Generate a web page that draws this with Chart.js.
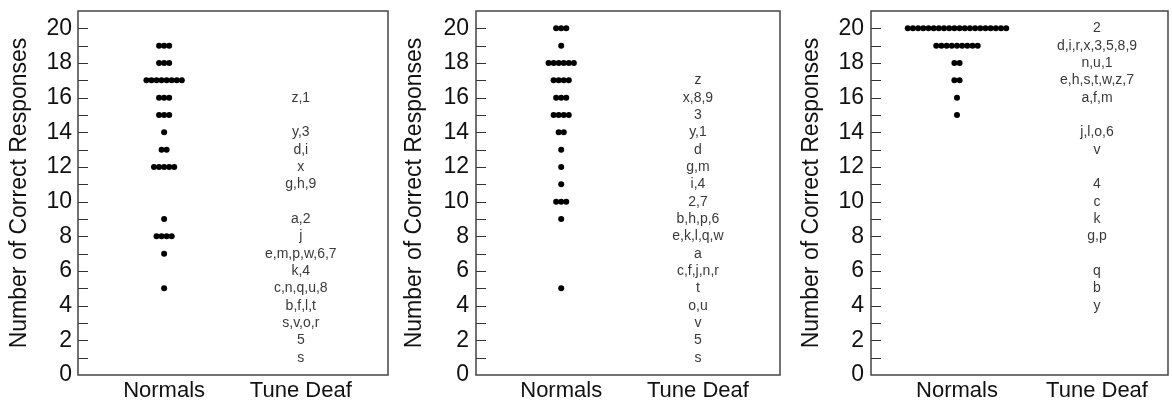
<!DOCTYPE html>
<html>
<head>
<meta charset="utf-8">
<script src="https://cdn.jsdelivr.net/npm/chart.js@4.4.1/dist/chart.umd.min.js"></script>
<style>
  html, body { margin: 0; padding: 0; background: #fff; }
  #wrap { position: relative; width: 1172px; height: 402px; }
  canvas { position: absolute; top: 0; }
</style>
</head>
<body>
<div id="wrap">
  <canvas id="panel1" width="392" height="402" style="left:0px"></canvas>
  <canvas id="panel2" width="392" height="402" style="left:392px"></canvas>
  <canvas id="panel3" width="388" height="402" style="left:784px"></canvas>
</div>
<script>
const categories = ["Normals", "Tune Deaf"];
const yTickLabels = [0, 2, 4, 6, 8, 10, 12, 14, 16, 18, 20];

// panel 1
const p1NormalScores = [19, 18, 17, 16, 15, 14, 13, 12, 9, 8, 7, 5];
const p1NormalCounts = [3, 3, 8, 3, 3, 1, 2, 5, 1, 4, 1, 1];
const p1DeafScores  = [16, 14, 13, 12, 11, 9, 8, 7, 6, 5, 4, 3, 2, 1];
const p1DeafLetters = ["z,1", "y,3", "d,i", "x", "g,h,9", "a,2", "j", "e,m,p,w,6,7",
                       "k,4", "c,n,q,u,8", "b,f,l,t", "s,v,o,r", "5", "s"];

// panel 2
const p2NormalScores = [20, 19, 18, 17, 16, 15, 14, 13, 12, 11, 10, 9, 5];
const p2NormalCounts = [3, 1, 6, 4, 3, 4, 2, 1, 1, 1, 3, 1, 1];
const p2DeafScores  = [17, 16, 15, 14, 13, 12, 11, 10, 9, 8, 7, 6, 5, 4, 3, 2, 1];
const p2DeafLetters = ["z", "x,8,9", "3", "y,1", "d", "g,m", "i,4", "2,7", "b,h,p,6",
                       "e,k,l,q,w", "a", "c,f,j,n,r", "t", "o,u", "v", "5", "s"];

// panel 3
const p3NormalScores = [20, 19, 18, 17, 16, 15];
const p3NormalCounts = [20, 9, 2, 2, 1, 1];
const p3DeafScores  = [20, 19, 18, 17, 16, 14, 13, 11, 10, 9, 8, 6, 5, 4];
const p3DeafLetters = ["2", "d,i,r,x,3,5,8,9", "n,u,1", "e,h,s,t,w,z,7", "a,f,m", "j,l,o,6",
                       "v", "4", "c", "k", "g,p", "q", "b", "y"];

const FONT = "'Liberation Sans', Arial, Helvetica, sans-serif";
const DOT_STEP = 0.037;   // horizontal spacing of tied dots, in x units

// dots with the same score are laid side by side around the category centre
function normalPoints(scores, counts) {
  const pts = [];
  scores.forEach((s, i) => {
    const n = counts[i];
    for (let k = 0; k < n; k++) pts.push({ x: 1 + (k - (n - 1) / 2) * DOT_STEP, y: s });
  });
  return pts;
}

// frame, inward tick marks and the letter labels of the tune deaf column
const framePlugin = {
  id: "frame",
  afterDraw(chart) {
    const { ctx, chartArea: a, scales: { y } } = chart;
    ctx.save();
    ctx.strokeStyle = "#333";
    ctx.lineWidth = 1;
    for (let v = 1; v <= 20; v++) {
      const py = Math.round(y.getPixelForValue(v)) + 0.5;
      ctx.beginPath();
      ctx.moveTo(a.left, py);
      ctx.lineTo(a.left + 10, py);
      ctx.stroke();
    }
    ctx.strokeStyle = "#444";
    ctx.lineWidth = 1.5;
    ctx.strokeRect(a.left, a.top, a.right - a.left, a.bottom - a.top);

    const ds = chart.data.datasets[1];
    const meta = chart.getDatasetMeta(1);
    ctx.fillStyle = "#3a3a3a";
    ctx.font = "14px " + FONT;
    ctx.textAlign = "center";
    ctx.textBaseline = "middle";
    meta.data.forEach((pt, i) => ctx.fillText(ds.letters[i], pt.x, pt.y));
    ctx.restore();
  },
};

function makePanel(id, lay, normScores, normCounts, deafScores, deafLetters) {
  new Chart(document.getElementById(id), {
    type: "scatter",
    data: {
      datasets: [
        { data: normalPoints(normScores, normCounts), pointRadius: 3, backgroundColor: "#000", borderWidth: 0 },
        { data: deafScores.map(s => ({ x: 2, y: s })), pointRadius: 0, letters: deafLetters },
      ],
    },
    options: {
      responsive: false,
      animation: false,
      layout: { padding: { left: 0, right: lay.padRight, top: 11, bottom: 0 } },
      plugins: { legend: { display: false }, tooltip: { enabled: false } },
      scales: {
        x: {
          type: "linear",
          min: lay.xMin,
          max: lay.xMax,
          grid: { display: false, drawTicks: false },
          border: { display: false },
          afterBuildTicks: s => { s.ticks = [{ value: 1 }, { value: 2 }]; },
          ticks: { callback: v => categories[v - 1], font: { family: FONT, size: 22 }, color: "#111", padding: 3 },
          afterFit: s => { s.height = 27; s.paddingLeft = 0; s.paddingRight = 0; },
        },
        y: {
          min: 0,
          max: 21,
          grid: { display: false, drawTicks: false },
          border: { display: false },
          afterBuildTicks: s => { s.ticks = yTickLabels.map(v => ({ value: v })); },
          ticks: { font: { family: FONT, size: 23 }, color: "#111", padding: lay.labelGap },
          title: {
            display: true,
            text: "Number of Correct Responses",
            font: { family: FONT, size: 23 },
            color: "#111",
            padding: { top: lay.titlePad, bottom: 0 },
          },
          afterFit: s => { s.width = lay.frameLeft; s.paddingTop = 0; s.paddingBottom = 0; },
        },
      },
    },
    plugins: [framePlugin],
  });
}

makePanel("panel1", { frameLeft: 78, padRight: 1, xMin: 0.37, xMax: 2.638, labelGap: 6, titlePad: 6 },
  p1NormalScores, p1NormalCounts, p1DeafScores, p1DeafLetters);
makePanel("panel2", { frameLeft: 84, padRight: 1, xMin: 0.377, xMax: 2.60, labelGap: 7, titlePad: 9 },
  p2NormalScores, p2NormalCounts, p2DeafScores, p2DeafLetters);
makePanel("panel3", { frameLeft: 87, padRight: 4, xMin: 0.386, xMax: 2.507, labelGap: 7, titlePad: 14 },
  p3NormalScores, p3NormalCounts, p3DeafScores, p3DeafLetters);
</script>
</body>
</html>
